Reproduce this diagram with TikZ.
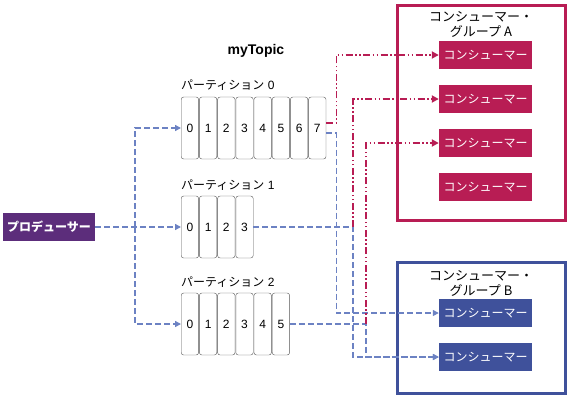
\documentclass[tikz,border=0pt]{standalone}
\usepackage{fontspec}
\setmainfont{Liberation Sans}
\newfontfamily\jp{Noto Sans CJK JP}
\usetikzlibrary{arrows.meta}

\definecolor{prodpurple}{HTML}{5C2D7B}
\definecolor{grpred}{HTML}{B81D54}
\definecolor{grpblue}{HTML}{3F519B}
\definecolor{linkblue}{HTML}{6C82C3}
\definecolor{cellgray}{HTML}{555555}

\tikzset{
  cell/.style={draw=cellgray, rounded corners=2.5pt, minimum width=17.4pt,
    minimum height=62pt, inner sep=0pt, font=\fontsize{12}{14}\selectfont},
  partlabel/.style={anchor=west, inner sep=0pt, font=\fontsize{12}{14}\selectfont},
  grpbox/.style={draw=#1, line width=3pt, minimum width=168pt, inner sep=0pt},
  grptitle/.style={align=center, inner sep=0pt, font=\jp\fontsize{13}{15}\selectfont},
  consumer/.style={fill=#1, text=white, minimum width=93pt, minimum height=28pt,
    inner sep=0pt, font=\jp\fontsize{12}{14}\selectfont},
  bluearrow/.style={draw=linkblue, line width=1.4pt, dash pattern=on 6pt off 3pt,
    -{Triangle[length=6pt,width=6pt]}},
  redarrow/.style={draw=grpred, line width=1.8pt,
    dash pattern=on 7pt off 2.5pt on 1.5pt off 2.5pt on 1.5pt off 2.5pt,
    -{Triangle[length=7pt,width=7pt]}}
}

\begin{document}
\begin{tikzpicture}[x=1pt,y=-1pt]
\useasboundingbox (0,0) rectangle (572,400);

% consumer groups
\node[grpbox=grpred, minimum height=215pt] (grpA) at (481.5,113) {};
\node[grptitle] (titleA) at (481,24.5) {コンシューマー・\\グループ A};
\node[grpbox=grpblue, minimum height=131pt] (grpB) at (481.5,328) {};
\node[grptitle] (titleB) at (481,283) {コンシューマー・\\グループ B};

\node[consumer=grpred] (a1) at (485.5,55) {コンシューマー};
\node[consumer=grpred] (a2) at (485.5,99) {コンシューマー};
\node[consumer=grpred] (a3) at (485.5,143) {コンシューマー};
\node[consumer=grpred] (a4) at (485.5,187) {コンシューマー};
\node[consumer=grpblue] (b1) at (485.5,313) {コンシューマー};
\node[consumer=grpblue] (b2) at (485.5,357) {コンシューマー};

% topic and partitions
\node[font=\bfseries\fontsize{14}{16}\selectfont] (topic) at (256,51) {myTopic};

\node[partlabel] (lab0) at (181,85) {{\jp パーティション} 0};
\foreach \i in {0,...,7}
  \node[cell] (p0c\i) at (189.9+18.2*\i,128) {\i};

\node[partlabel] (lab1) at (181,185) {{\jp パーティション} 1};
\foreach \i in {0,...,3}
  \node[cell] (p1c\i) at (189.9+18.2*\i,227) {\i};

\node[partlabel] (lab2) at (181,282) {{\jp パーティション} 2};
\foreach \i in {0,...,5}
  \node[cell] (p2c\i) at (189.9+18.2*\i,324) {\i};

% producer
\node[fill=prodpurple, text=white, minimum width=92pt, minimum height=28pt,
  inner sep=0pt, font=\jp\bfseries\fontsize{12}{14}\selectfont] (prod) at (49,227) {プロデューサー};

\coordinate (fork) at (135,227);
\draw[bluearrow] (prod.east) -- (p1c0.west);
\draw[bluearrow] (fork) |- (p0c0.west);
\draw[bluearrow] (fork) |- (p2c0.west);

% partitions to consumers
\coordinate (j1) at (353,227);
\coordinate (j2) at (366,324);
\draw[bluearrow] ([yshift=-5pt]p0c7.east) -- ++(10.3,0) |- (b1.west);
\draw[bluearrow] (p1c3.east) -- (j1) |- (b2.west);
\draw[bluearrow] (p2c5.east) -- (j2) |- (b2.west);
\draw[redarrow] ([yshift=5pt]p0c7.east) -- ++(10.3,0) |- (a1.west);
\draw[redarrow] (j1) |- (a2.west);
\draw[redarrow] (j2) |- (a3.west);
\end{tikzpicture}
\end{document}
